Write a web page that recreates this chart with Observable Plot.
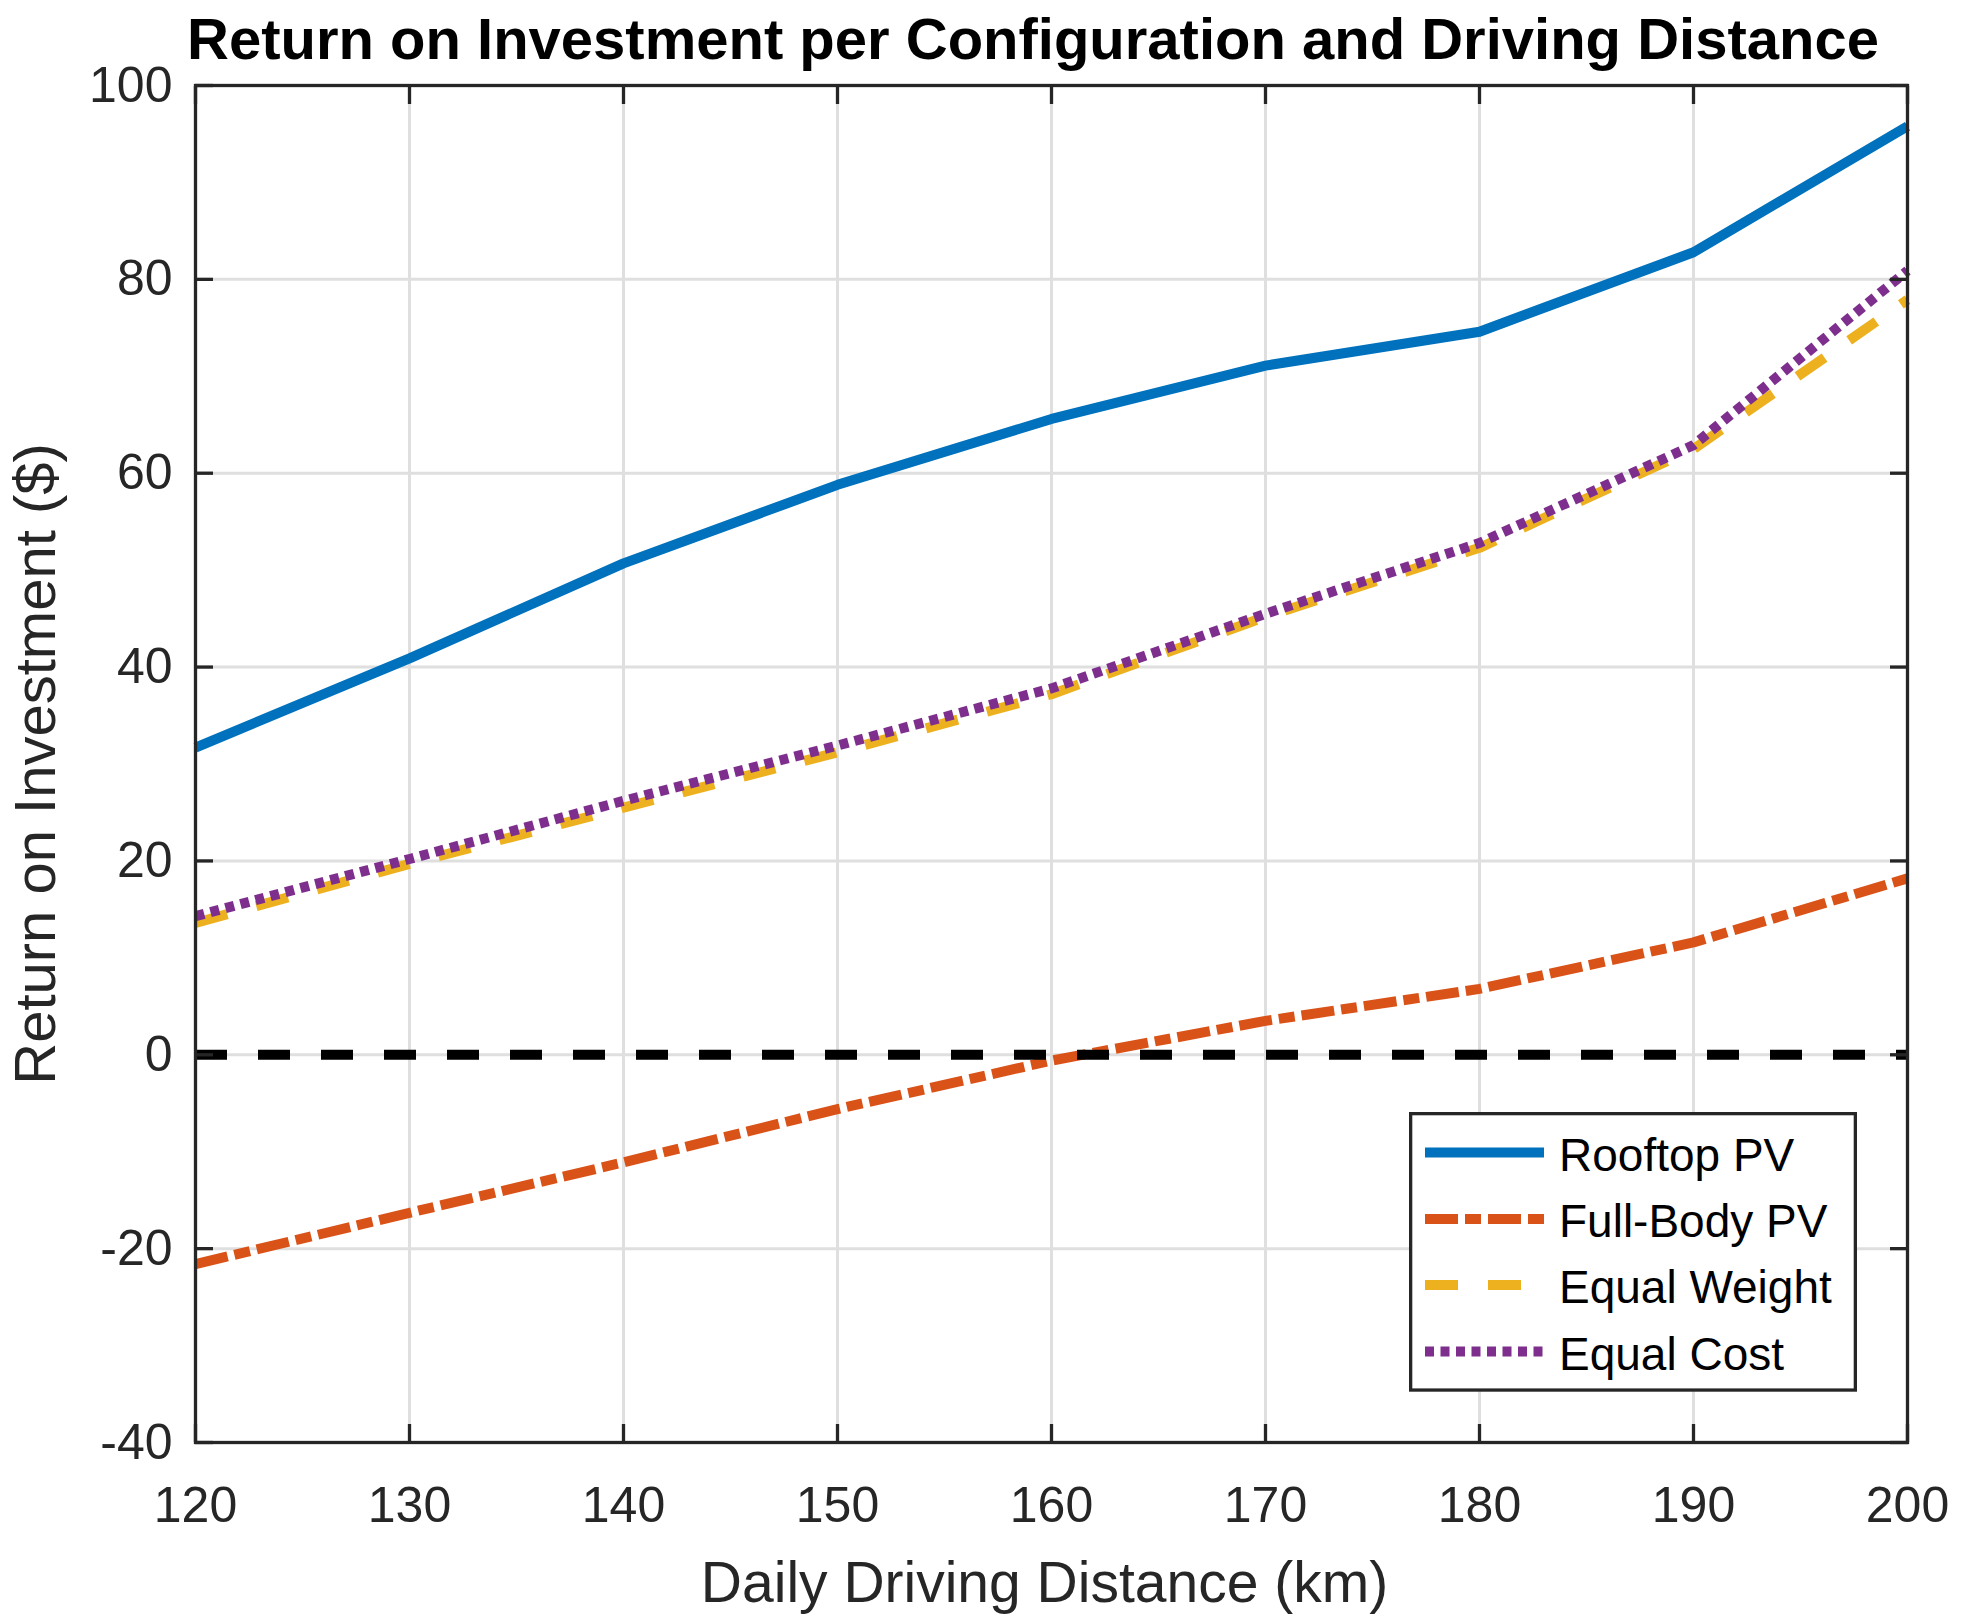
<!DOCTYPE html>
<html><head><meta charset="utf-8">
<script src="https://cdn.jsdelivr.net/npm/d3@7"></script>
<script src="https://cdn.jsdelivr.net/npm/@observablehq/plot@0.6"></script>
<style>
body{margin:0;background:#fff;font-family:"Liberation Sans",Arial,Helvetica,sans-serif;}
#wrap{position:relative;width:1963px;height:1623px;background:#fff;}
#title{position:absolute;left:1033px;top:10px;transform:translateX(-50%);white-space:nowrap;font-size:58px;font-weight:bold;line-height:57px;color:#000;z-index:3;}
#chart{position:absolute;left:0;top:62px;z-index:1;}
#legend{position:absolute;left:1409px;top:1112px;overflow:visible;z-index:2;}
</style></head><body>
<div id="wrap">
  <div id="title">Return on Investment per Configuration and Driving Distance</div>
  <div id="chart"></div>
  <svg id="legend" width="448" height="280"></svg>
</div>
<script>
// ---- data ----
const distance = [120, 130, 140, 150, 160, 170, 180, 190, 200];
const rooftopPV = [31.7, 40.9, 50.7, 58.8, 65.6, 71.1, 74.6, 82.8, 95.8];
const fullBodyPV = [-21.6, -16.3, -11.1, -5.6, -0.6, 3.5, 6.8, 11.6, 18.2];
const equalWeight = [13.6, 19.7, 25.5, 31.2, 37.2, 45.2, 52.3, 62.5, 77.9];
const equalCost = [14.3, 20.2, 26.2, 31.9, 37.8, 45.5, 52.8, 62.9, 80.9];
const zeroLine = [0];
const seriesNames = ["Rooftop PV", "Full-Body PV", "Equal Weight", "Equal Cost"];
const seriesValues = [rooftopPV, fullBodyPV, equalWeight, equalCost];
const xTicks = [120, 130, 140, 150, 160, 170, 180, 190, 200];
const yTicks = [-40, -20, 0, 20, 40, 60, 80, 100];
const xLabel = "Daily Driving Distance (km)";
const yLabel = "Return on Investment ($)";

// ---- styles ----
const seriesColors = ["#0072BD", "#D95319", "#EDB120", "#7E2F8E"];
const seriesDash = [null, "33,7,16,7", "33,30", "9,6.5"];
const LW = 10;
const axisColor = "#262626";
const font = '"Liberation Sans", Arial, Helvetica, sans-serif';
const fmt = d => String(d);

const table = seriesNames.map((name, s) =>
  distance.map((d, i) => ({series: name, x: d, y: seriesValues[s][i]})));

const lineMarks = table.map((rows, s) =>
  Plot.line(rows, {x: "x", y: "y", stroke: seriesColors[s], strokeWidth: LW,
    strokeDasharray: seriesDash[s] ?? undefined, strokeLinecap: "butt", strokeLinejoin: "round"}));

const plot = Plot.plot({
  width: 1963, height: 1561,
  marginLeft: 195, marginRight: 56, marginTop: 23, marginBottom: 181,
  x: {domain: [120, 200]},
  y: {domain: [-40, 100]},
  style: {fontFamily: font, background: "transparent", color: axisColor, overflow: "visible"},
  marks: [
    Plot.gridX(xTicks, {stroke: "#dfdfdf", strokeOpacity: 1, strokeWidth: 3}),
    Plot.gridY(yTicks, {stroke: "#dfdfdf", strokeOpacity: 1, strokeWidth: 3}),
    ...lineMarks,
    Plot.ruleY(zeroLine, {stroke: "#000", strokeWidth: LW, strokeDasharray: "32,31", strokeLinecap: "butt"}),
    Plot.frame({stroke: axisColor, strokeWidth: 3.3}),
    // inward ticks on all sides
    Plot.axisX(xTicks, {anchor: "bottom", tickSize: -18, fill: "none", stroke: axisColor, strokeWidth: 3.3, label: null}),
    Plot.axisX(xTicks, {anchor: "top", tickSize: -18, fill: "none", stroke: axisColor, strokeWidth: 3.3, label: null}),
    Plot.axisY(yTicks, {anchor: "left", tickSize: -18, fill: "none", stroke: axisColor, strokeWidth: 3.3, label: null}),
    Plot.axisY(yTicks, {anchor: "right", tickSize: -18, fill: "none", stroke: axisColor, strokeWidth: 3.3, label: null}),
    // tick labels
    Plot.axisX(xTicks, {anchor: "bottom", tickSize: 0, tickPadding: 43.5, fontSize: 50, fill: axisColor, label: null, tickFormat: fmt}),
    Plot.axisY(yTicks, {anchor: "left", tickSize: 0, tickPadding: 23, fontSize: 50, fill: axisColor, label: null, tickFormat: fmt}),
    // axis titles
    Plot.text([xLabel], {frameAnchor: "bottom", dx: -7, dy: 159, lineAnchor: "bottom", fontSize: 57, fill: axisColor, textAnchor: "middle"}),
    Plot.text([yLabel], {frameAnchor: "left", dx: -141, rotate: -90, lineAnchor: "bottom", fontSize: 58, fill: axisColor, textAnchor: "middle"})
  ]
});
document.getElementById("chart").appendChild(plot);

// ---- legend ----
const leg = d3.select("#legend");
leg.append("rect").attr("x", 1.65).attr("y", 1.65).attr("width", 444.7).attr("height", 276.4)
  .attr("fill", "#fff").attr("stroke", axisColor).attr("stroke-width", 3.3);
const rowY = [40.6, 107, 173, 239.5];
seriesNames.forEach((name, s) => {
  const g = leg.append("g").attr("transform", `translate(0,${rowY[s]})`);
  g.append("line").attr("x1", 16).attr("x2", 135).attr("y1", 0).attr("y2", 0)
    .attr("stroke", seriesColors[s]).attr("stroke-width", LW)
    .attr("stroke-dasharray", seriesDash[s]).attr("stroke-linecap", "butt");
  g.append("text").attr("x", 150).attr("y", 18).attr("font-family", font).attr("font-size", 46)
    .attr("fill", "#000").text(name);
});
</script>
</body></html>
